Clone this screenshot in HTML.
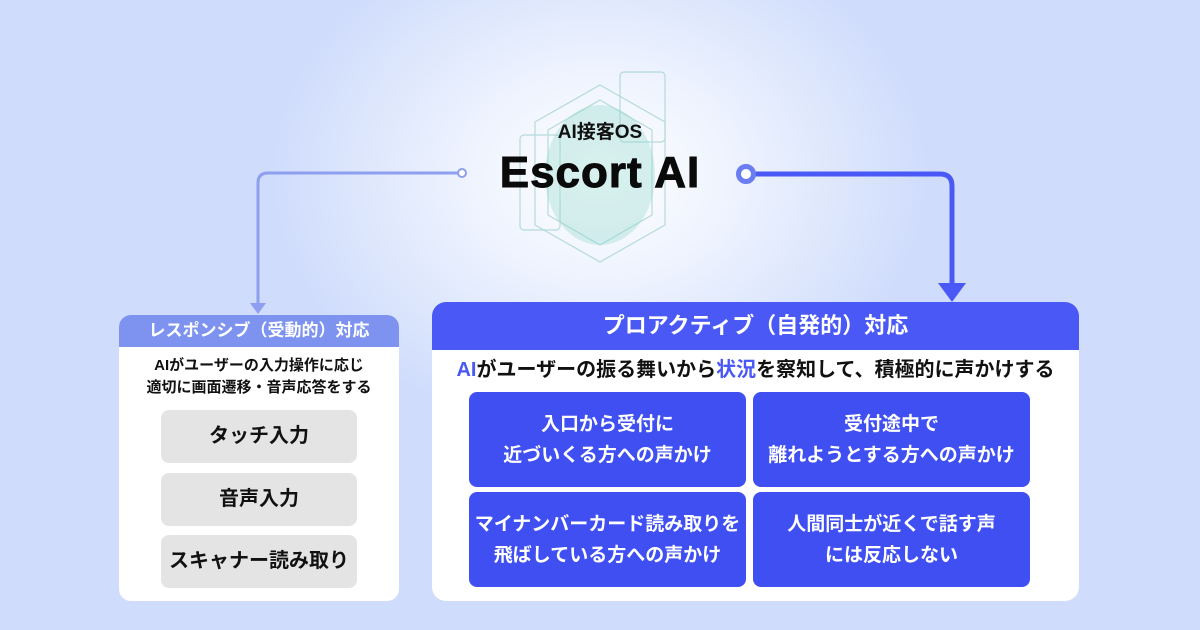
<!DOCTYPE html>
<html><head><meta charset="utf-8"><style>
*{margin:0;padding:0;box-sizing:border-box}
body{width:1200px;height:630px;overflow:hidden;position:relative;font-family:"Liberation Sans","Noto Sans CJK JP",sans-serif;font-weight:bold;
background:radial-gradient(ellipse 330px 260px at 600px 175px,#ffffff 0%,#eef3fe 40%,#cfdcfb 100%),#cddcfb;}
.abs{position:absolute}
.lbox{left:119px;top:315px;width:280px;height:286px;background:#fff;border-radius:12px;overflow:hidden}
.lhead{height:32px;background:#7d93ef;color:#fff;font-size:17px;text-align:center;line-height:32px}
.ldesc{text-align:center;font-size:15px;line-height:22px;margin-top:8px;color:#111;white-space:nowrap}
.gbtn{position:absolute;left:42px;width:196px;height:53px;background:#e4e4e4;border-radius:8px;font-size:20px;text-align:center;line-height:53px;color:#111;white-space:nowrap}
.rbox{left:432px;top:302px;width:647px;height:299px;background:#fff;border-radius:14px;overflow:hidden}
.rhead{height:48px;background:#4a59f5;color:#fff;font-size:22px;text-align:center;line-height:48px}
.rdesc{text-align:center;font-size:20px;margin-top:6px;color:#111;line-height:28px;white-space:nowrap}
.card{position:absolute;width:277px;height:95px;background:#3f4ff2;border-radius:8px;color:#fff;font-size:19px;text-align:center;display:flex;align-items:center;justify-content:center;line-height:31px;white-space:nowrap}
</style></head><body>
<svg class="abs" style="left:0;top:0" width="1200" height="630">
<g fill="none" stroke="#9bcfcf" stroke-width="1.2" opacity="0.7">
<polygon points="600,85 665,122 665,225 600,262 535,225 535,122"/>
<polygon points="600,100 652,130 652,215 600,245 548,215 548,130"/>
<rect x="620" y="72" width="45" height="70" rx="4"/>
<rect x="520" y="135" width="40" height="95" rx="4"/>
</g>
<ellipse cx="600" cy="175" rx="55" ry="70" fill="#8fd8cc" opacity="0.35"/>
<path d="M458 173 H268 Q258 173 258 183 V305" fill="none" stroke="#8d9fee" stroke-width="3"/>
<circle cx="462" cy="173" r="4" fill="#fff" stroke="#8d9fee" stroke-width="2"/>
<polygon points="250,303 266,303 258,314" fill="#8d9fee"/>
<path d="M755 174 H940 Q952 174 952 186 V286" fill="none" stroke="#4a59f5" stroke-width="5"/>
<circle cx="746" cy="174" r="7.5" fill="#fff" stroke="#6a7ef2" stroke-width="5"/>
<polygon points="938,283 966,283 952,302" fill="#4a59f5"/>
</svg>
<div class="abs" style="left:0;width:1200px;top:117px;text-align:center;font-size:19px;color:#111">AI接客OS</div>
<div class="abs" style="left:0;width:1200px;top:148px;text-align:center;font-size:44px;color:#0a0a0a;letter-spacing:1px;-webkit-text-stroke:1px #0a0a0a">Escort AI</div>
<div class="abs lbox">
<div class="lhead">レスポンシブ（受動的）対応</div>
<div class="ldesc">AIがユーザーの入力操作に応じ<br>適切に画面遷移・音声応答をする</div>
<div class="gbtn" style="top:95px">タッチ入力</div>
<div class="gbtn" style="top:158px">音声入力</div>
<div class="gbtn" style="top:220px">スキャナー読み取り</div>
</div>
<div class="abs rbox">
<div class="rhead">プロアクティブ（自発的）対応</div>
<div class="rdesc"><span style="color:#4a59f5">AI</span>がユーザーの振る舞いから<span style="color:#4a59f5">状況</span>を察知して、積極的に声かけする</div>
<div class="card" style="left:37px;top:90px">入口から受付に<br>近づいくる方への声かけ</div>
<div class="card" style="left:321px;top:90px">受付途中で<br>離れようとする方への声かけ</div>
<div class="card" style="left:37px;top:190px">マイナンバーカード読み取りを<br>飛ばしている方への声かけ</div>
<div class="card" style="left:321px;top:190px">人間同士が近くで話す声<br>には反応しない</div>
</div>
</body></html>
